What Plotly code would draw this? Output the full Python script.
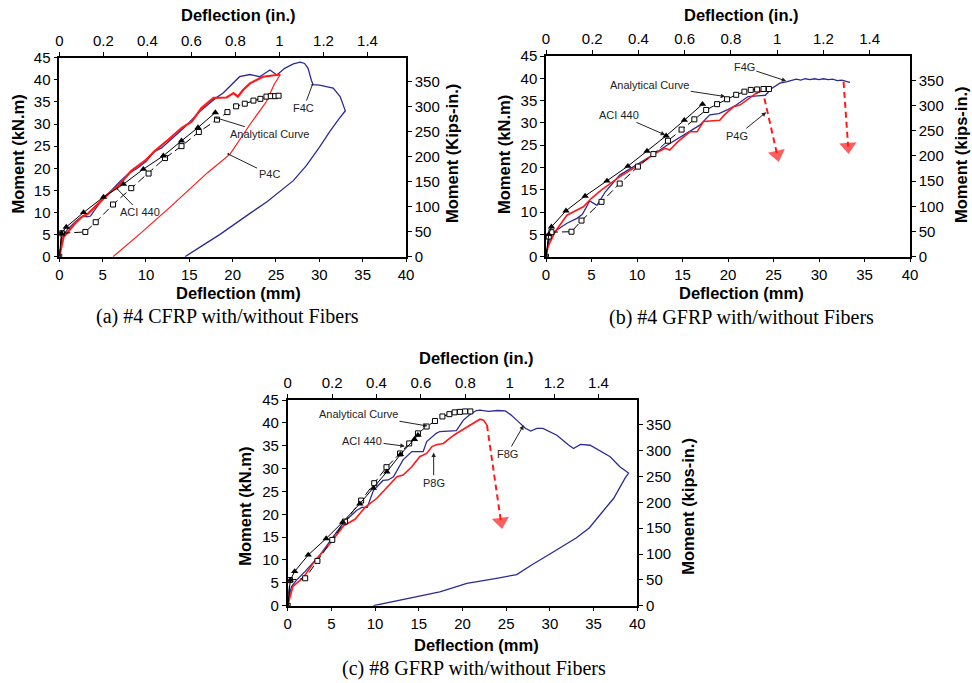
import plotly.graph_objects as go

W, H = 972, 683
KIP = 8.8507  # kN.m -> kip-in.
MM_PER_IN = 25.4

# ---------------- Panel (a) #4 CFRP ----------------
a_f4c_x = [0, 0.2, 0.5, 1.0, 2.0, 2.8, 3.2, 3.6, 4.7, 6.0, 7.0, 8.0, 9.0, 10.0, 11.0, 11.8, 12.6, 13.4, 14.2,
           15.3, 16.4, 17.2, 18.0, 18.9, 20.0, 20.8, 22.0, 23.1, 23.6, 24.3, 25.1, 26.0, 27.0, 27.8, 28.3, 28.7,
           29.1, 29.3, 30.0, 31.6, 32.4, 33.0, 32.2, 31.2, 30.0, 28.5, 27.0, 25.5, 24.0, 22.0, 20.3, 18.5, 16.5, 14.5]
a_f4c_m = [0, 2.5, 5.0, 6.3, 8.2, 9.3, 9.0, 9.2, 12.3, 15.0, 17.0, 18.8, 20.0, 21.5, 23.8, 24.6, 26.0, 27.5, 28.8,
           31.0, 33.2, 34.5, 35.8, 37.0, 39.2, 40.7, 41.2, 40.7, 41.3, 42.2, 41.1, 42.6, 43.6, 44.0, 43.7, 42.6,
           39.8, 38.9, 38.8, 38.1, 36.2, 33.0, 31.0, 28.3, 24.7, 20.6, 17.2, 14.8, 12.5, 9.8, 7.5, 5.0, 2.5, 0]
a_p4c_load_x = [0, 0.15, 0.3, 0.5, 1.0, 1.8, 2.6, 3.3, 4.5, 5.65, 6.8, 8.3, 9.9, 11.0, 12.6, 14.1, 15.3, 16.4,
                17.8, 19.3, 20.1, 20.6, 21.2, 22.0, 23.5, 24.5, 25.5]
a_p4c_load_m = [0, 1.5, 3.0, 4.5, 5.6, 7.5, 9.0, 9.7, 12.0, 14.2, 16.0, 19.4, 21.7, 23.9, 26.5, 29.1, 30.6, 33.6,
                35.9, 36.0, 37.0, 36.2, 37.7, 39.2, 40.7, 41.0, 41.2]
a_p4c_unl_x = [25.5, 24.8, 23.9, 22.0, 19.7, 17.1, 13.0, 9.5, 6.2]
a_p4c_unl_m = [41.2, 39.0, 35.1, 29.9, 23.2, 19.0, 11.6, 5.5, 0]
a_aci_x = [0, 0.25, 0.8, 2.8, 5.1, 7.4, 9.7, 12.0, 14.1, 16.0, 18.0]
a_aci_m = [0, 5.3, 6.7, 10.0, 13.5, 16.4, 19.8, 22.8, 26.2, 29.2, 32.6]
a_ana_x = [0, 0.3, 3.0, 4.2, 6.2, 8.3, 10.3, 12.2, 14.1, 16.1, 18.2, 19.4, 20.4, 21.4, 22.4, 23.2, 23.9, 24.4, 24.9, 25.3]
a_ana_m = [0, 5.3, 5.6, 7.8, 11.8, 15.5, 18.8, 22.3, 25.0, 28.2, 31.0, 32.7, 34.0, 34.6, 35.3, 35.7, 36.2, 36.3, 36.3, 36.4]

# ---------------- Panel (b) #4 GFRP ----------------
b_f4g_x = [0, 0.2, 0.45, 1.2, 2.3, 3.4, 4.0, 4.8, 5.6, 6.5, 8.1, 9.5, 11.4, 13.3, 15.1, 16.9, 18.0, 19.0, 19.9, 20.9,
           22.2, 23.3, 24.1, 24.8, 25.7, 26.4, 27.5, 28.0, 28.5, 29.0, 29.5, 30.0, 30.5, 31.0, 31.5, 32.0, 32.5,
           33.0, 33.4]
b_f4g_m = [0, 2.5, 4.5, 6.0, 7.5, 8.6, 9.5, 12.5, 11.5, 14.5, 18.3, 20.0, 22.4, 25.0, 27.3, 29.5, 31.8, 32.1, 32.9,
           34.0, 35.9, 36.0, 36.2, 37.7, 38.9, 39.2, 39.8, 39.6, 39.9, 39.7, 39.9, 39.7, 39.9, 39.7, 39.8, 39.5,
           39.6, 39.3, 39.1]
b_p4g_x = [0, 0.2, 0.4, 1.0, 2.3, 3.0, 4.1, 5.0, 6.1, 8.0, 10.0, 12.0, 13.1, 13.6, 14.5, 15.8, 16.6, 17.3, 18.2,
           19.1, 19.6, 20.6, 21.3, 22.2, 23.0, 23.5, 23.7]
b_p4g_m = [0, 2.0, 3.0, 5.6, 9.3, 10.1, 11.2, 13.1, 15.0, 17.8, 20.3, 23.2, 24.3, 23.9, 25.8, 28.0, 28.0, 30.3, 30.4,
           30.6, 31.8, 33.6, 34.0, 35.3, 36.5, 37.0, 37.2]
b_aci_x = [0, 0.3, 0.6, 2.2, 4.3, 6.7, 9.0, 11.1, 13.2, 15.2, 17.2]
b_aci_m = [0, 5.0, 6.7, 10.3, 13.6, 17.0, 20.3, 23.7, 27.1, 30.6, 34.2]
b_ana_x = [0, 0.3, 0.6, 2.8, 3.9, 6.1, 8.1, 10.1, 11.8, 13.4, 14.9, 16.3, 17.6, 18.8, 19.9, 20.9, 21.8, 22.5, 23.2, 23.9, 24.5]
b_ana_m = [0, 4.5, 5.5, 5.6, 8.1, 12.3, 16.4, 20.2, 23.0, 26.0, 28.5, 30.8, 32.9, 34.2, 35.3, 36.3, 37.0, 37.4, 37.5, 37.6, 37.6]
b_arrow1_x = [24.0, 25.4]
b_arrow1_m = [35.5, 22.9]
b_arrow2_x = [32.7, 33.2]
b_arrow2_m = [39.2, 24.7]

# ---------------- Panel (c) #8 GFRP ----------------
c_f8g_x = [0, 0.2, 0.45, 1.0, 2.0, 3.7, 4.8, 6.4, 7.9, 8.5, 9.1, 9.8, 10.9, 11.5, 12.1, 13.2, 14.2, 15.5, 15.9,
           17.0, 17.4, 19.3, 20.1, 20.9, 21.6, 22.0, 23.0, 24.0, 24.9, 25.5, 26.2, 27.2, 27.8, 28.5, 29.2, 30.8,
           32.1, 32.7, 33.5, 34.6, 36.9, 38.0, 38.8, 39.0,
           38.6, 37.3, 36.0, 34.5, 33.0, 31.5, 30.0, 28.0, 26.2, 23.9, 20.5, 17.4, 15.0, 13.2, 11.5, 9.8]
c_f8g_m = [0, 2.5, 4.2, 5.6, 7.5, 11.1, 14.0, 18.2, 20.9, 21.5, 21.5, 25.2, 27.4, 27.5, 28.2, 31.9, 33.7, 33.7, 35.9,
           37.7, 38.1, 38.3, 40.6, 41.9, 42.7, 42.8, 42.5, 42.7, 42.6, 41.8, 40.6, 38.8, 38.2, 38.8, 38.8, 37.3,
           35.2, 34.4, 35.3, 35.1, 32.6, 30.4, 29.3, 29.0,
           27.9, 23.5, 20.5, 17.0, 14.8, 13.0, 11.3, 9.0, 6.8, 6.0, 4.9, 3.0, 2.0, 1.25, 0.6, 0]
c_p8g_x = [0, 0.26, 0.6, 1.8, 3.1, 4.85, 6.4, 7.7, 8.85, 10.2, 11.3, 12.5, 13.2, 14.2, 15.1, 15.9, 16.5, 17.0, 17.8,
           19.0, 20.1, 21.2, 22.0, 22.4, 22.8]
c_p8g_m = [0, 2.0, 4.2, 6.2, 9.8, 13.6, 17.5, 18.9, 21.5, 23.5, 25.7, 28.2, 28.6, 30.4, 32.6, 33.3, 34.8, 35.2, 35.5,
           37.3, 38.6, 39.9, 40.8, 40.6, 39.5]
c_aci_x = [0, 0.3, 0.8, 2.35, 4.4, 6.3, 8.25, 9.8, 11.35, 12.9, 14.5, 14.9]
c_aci_m = [0, 5.6, 7.5, 11.1, 14.7, 18.3, 22.3, 25.7, 29.3, 33.1, 36.4, 37.3]
c_ana_x = [0, 0.26, 2.0, 3.4, 5.1, 6.55, 8.4, 9.9, 11.3, 12.85, 13.9, 14.9, 15.9, 16.85, 17.7, 18.5, 19.1, 19.7, 20.3, 20.9]
c_ana_m = [0, 5.6, 6.0, 9.8, 14.4, 18.4, 23.0, 26.8, 30.3, 33.3, 35.5, 37.7, 39.2, 40.4, 41.4, 41.9, 42.3, 42.4, 42.5, 42.5]
c_arrow_x = [22.8, 24.4]
c_arrow_m = [39.5, 18.4]

# label text, text position (mm, kN.m), pointed position (mm, kN.m)
a_labels = [("F4C", 28.2, 33.6, 29.2, 38.9), ("Analytical Curve", 24.2, 27.7, 18.1, 31.4),
            ("P4C", 24.2, 18.7, 19.5, 23.2), ("ACI 440", 9.3, 10.0, 6.7, 15.3)]
b_labels = [("F4G", 21.8, 42.5, 26.4, 39.4), ("Analytical Curve", 11.4, 38.5, 19.7, 35.9),
            ("ACI 440", 8.05, 31.8, 13.1, 27.3), ("P4G", 21.0, 27.1, 24.2, 32.4)]
c_labels = [("Analytical Curve", 8.1, 41.9, 16.0, 39.3), ("ACI 440", 8.5, 36.1, 13.4, 34.9),
            ("F8G", 25.1, 33.2, 27.0, 39.5), ("P8G", 16.7, 26.9, 16.7, 33.5)]

captions = ["(a) #4 CFRP with/without Fibers", "(b) #4 GFRP with/without Fibers", "(c) #8 GFRP with/without Fibers"]
right_titles = ["Moment (Kips-in.)", "Moment (kips-in.)", "Moment (kips-in.)"]

BLUE = "#2b2b95"
RED = "#ff1a1a"

# plot area pixel boxes: (left, right, top, bottom)
boxes = [(59.3, 406.0, 57.7, 256.7), (546.0, 910.0, 56.0, 256.7), (287.7, 637.3, 400.0, 605.7)]

fig = go.Figure()

def line(x, y, k, color, width, dash=None, marker=None, mode="lines"):
    fig.add_trace(go.Scatter(x=x, y=y, xaxis="x" + ("" if k == 1 else str(k)), yaxis="y" + ("" if k == 1 else str(k)),
                             mode=mode, line=dict(color=color, width=width, dash=dash), marker=marker,
                             showlegend=False, hoverinfo="skip"))

tri = dict(symbol="triangle-up", size=6.5, color="black")
sq = dict(symbol="square", size=5, color="white", line=dict(color="black", width=1))
DASH = "8px,4px"

# panel a
line(a_p4c_unl_x, a_p4c_unl_m, 1, RED, 1.2)
line(a_f4c_x, a_f4c_m, 1, BLUE, 1.3)
line(a_p4c_load_x, a_p4c_load_m, 1, RED, 2.2)
line(a_ana_x, a_ana_m, 1, "black", 1, DASH, sq, "lines+markers")
line(a_aci_x, a_aci_m, 1, "black", 1, None, tri, "lines+markers")
# panel b
line(b_f4g_x, b_f4g_m, 2, BLUE, 1.3)
line(b_p4g_x, b_p4g_m, 2, RED, 1.6)
line(b_ana_x, b_ana_m, 2, "black", 1, DASH, sq, "lines+markers")
line(b_aci_x, b_aci_m, 2, "black", 1, None, tri, "lines+markers")
# panel c
line(c_f8g_x, c_f8g_m, 3, BLUE, 1.3)
line(c_p8g_x, c_p8g_m, 3, RED, 1.6)
line(c_ana_x, c_ana_m, 3, "black", 1, DASH, sq, "lines+markers")
line(c_aci_x, c_aci_m, 3, "black", 1, None, tri, "lines+markers")

arrow_marker = dict(symbol="triangle-up", size=[0, 15], color=RED, angleref="previous", line=dict(width=0))
for ax_, ay_, k in [(b_arrow1_x, b_arrow1_m, 2), (b_arrow2_x, b_arrow2_m, 2), (c_arrow_x, c_arrow_m, 3)]:
    line(ax_, ay_, k, RED, 2, "6px,4px", arrow_marker, "lines+markers")

# dummy traces to activate secondary axes
for k in (4, 5, 6):
    fig.add_trace(go.Scatter(x=[None], y=[None], xaxis="x%d" % k, yaxis="y%d" % k, showlegend=False,
                             hoverinfo="skip"))

tickfont = dict(family="Arial, Liberation Sans, sans-serif", size=15, color="black")
common = dict(showline=True, linecolor="black", linewidth=1.5, ticks="outside", ticklen=4, tickwidth=1,
              tickcolor="black", showgrid=False, zeroline=False, tickfont=tickfont, automargin=False)

layout = dict(width=W, height=H, margin=dict(l=0, r=0, t=0, b=0, pad=0, autoexpand=False),
              paper_bgcolor="white", plot_bgcolor="white", showlegend=False)
for i, (l, r, t, b) in enumerate(boxes):
    k = i + 1
    s = "" if k == 1 else str(k)
    xd = [l / W, r / W]
    yd = [1 - b / H, 1 - t / H]
    layout["xaxis" + s] = dict(domain=xd, range=[0, 40], dtick=5, tick0=0, anchor="y" + s, **common)
    layout["yaxis" + s] = dict(domain=yd, range=[0, 45], dtick=5, tick0=0, anchor="x" + s, **common)
    layout["xaxis%d" % (k + 3)] = dict(overlaying="x" + s, side="top", range=[0, 40 / MM_PER_IN], dtick=0.2,
                                        tick0=0, anchor="y" + s, **common)
    layout["yaxis%d" % (k + 3)] = dict(overlaying="y" + s, side="right", range=[0, 45 * KIP], dtick=50,
                                        tick0=0, anchor="x" + s, **common)
fig.update_layout(**layout)

ann = []
titlefont = dict(family="Arial, Liberation Sans, sans-serif", size=16.5, color="black")
def paper_text(text, px, py, font, angle=0):
    ann.append(dict(text=text, x=px / W, y=1 - py / H, xref="paper", yref="paper", showarrow=False,
                    xanchor="center", yanchor="middle", font=font, textangle=angle))

# axis titles: (top x, top y, bottom y, left x, left y center, right x)
title_pos = [(238, 15, 293.3, 17.5, 154, 452), (741.7, 15, 293.3, 504, 155, 961), (476.7, 358.3, 645, 245, 506.7, 688)]
cap_pos = [(227.5, 316), (741.7, 317), (474.3, 668.3)]
for i, (tx, ty, by, lx, ly, rx) in enumerate(title_pos):
    paper_text("<b>Deflection (in.)</b>", tx, ty, titlefont)
    paper_text("<b>Deflection (mm)</b>", tx, by, titlefont)
    paper_text("<b>Moment (kN.m)</b>", lx, ly, titlefont, -90)
    paper_text("<b>%s</b>" % right_titles[i], rx, ly, titlefont, -90)
    paper_text(captions[i], cap_pos[i][0], cap_pos[i][1],
               dict(family="Liberation Serif, Times New Roman, serif", size=20, color="black"))

labfont = dict(family="Arial, Liberation Sans, sans-serif", size=11, color="#222222")
for k, labels in [(1, a_labels), (2, b_labels), (3, c_labels)]:
    s = "" if k == 1 else str(k)
    for text, tx, ty, hx, hy in labels:
        ann.append(dict(text=text, x=hx, y=hy, ax=tx, ay=ty, xref="x" + s, yref="y" + s, axref="x" + s,
                        ayref="y" + s, showarrow=True, arrowhead=(6 if k == 1 else 2),
                        arrowsize=(0.5 if k == 1 else 0.9), arrowwidth=1, arrowcolor="#222222",
                        font=labfont, xanchor="center", yanchor="middle"))
fig.update_layout(annotations=ann)

fig.write_html("out.html")
